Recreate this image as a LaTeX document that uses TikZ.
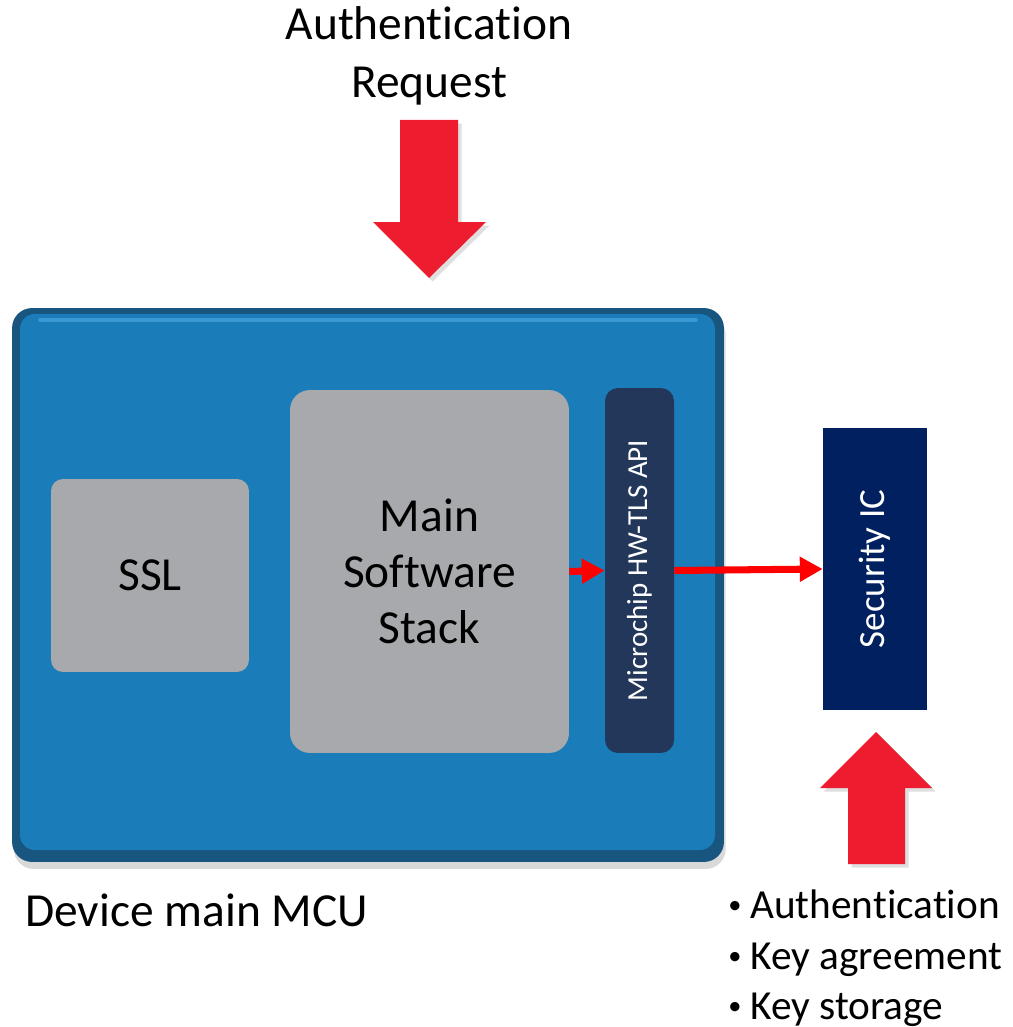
\documentclass[tikz,border=0pt]{standalone}
\usepackage{fontspec}
\setmainfont{Carlito}[Ligatures={NoCommon}]
\usetikzlibrary{arrows.meta,shadows}

\definecolor{mcublue}{HTML}{1A7DBA}
\definecolor{mcuedge}{HTML}{18557F}
\definecolor{mcuhigh}{HTML}{3A98D3}
\definecolor{boxgray}{HTML}{A7A9AC}
\definecolor{apiblue}{HTML}{22375A}
\definecolor{icblue}{HTML}{002060}
\definecolor{bigred}{HTML}{ED1C2E}

\newcommand{\featdot}{\raisebox{0.12em}{\fontsize{15}{15}\selectfont•}\hspace{5pt}}

\tikzset{
	txt/.style={inner sep=0pt, font=\fontsize{27}{32}\selectfont},
	feat/.style={inner sep=0pt, anchor=base west, font=\fontsize{23.5}{28}\selectfont},
	grayblock/.style={fill=boxgray, draw=none, align=center, inner sep=0pt},
	link/.style={red, line width=4pt, -{Triangle[length=13pt, width=13.5pt]}},
	bigarrow/.style={fill=bigred, draw=none, drop shadow={shadow xshift=2pt, shadow yshift=-2pt, opacity=0.25}},
}

\begin{document}
\begin{tikzpicture}[x=0.02cm, y=-0.02cm]
	\useasboundingbox (0,0) rectangle (1012,1027);
	% mcu body
	\node [fill=mcuedge, rounded corners=0.4cm, minimum width=14.24cm, minimum height=11.08cm,
		drop shadow={shadow xshift=1pt, shadow yshift=-4pt, opacity=0.3}] (mcu) at (368,585) {};
	\fill [mcublue, rounded corners=0.3cm] (20,314) rectangle (715,850);
	\draw [mcuhigh, line width=2pt, line cap=round] (40,320) -- (696,320);
	% inner blocks
	\node [grayblock, rounded corners=0.24cm, minimum width=3.96cm, minimum height=3.86cm,
		font=\fontsize{27}{32}\selectfont] (ssl) at (150,575.5) {SSL};
	\node [grayblock, rounded corners=0.4cm, minimum width=5.58cm, minimum height=7.26cm,
		font=\fontsize{27}{32}\selectfont] (stack) at (429.5,571.5) {Main\\Software\\Stack};
	\node [fill=apiblue, rounded corners=0.26cm, minimum width=1.38cm, minimum height=7.3cm] (api) at (639.5,570.5) {};
	\node [txt, white, rotate=90, font=\fontsize{16.5}{20}\selectfont] (apitxt) at (api.center) {Microchip HW-TLS API};
	\node [fill=icblue, minimum width=2.08cm, minimum height=5.64cm] (ic) at (875,569) {};
	\node [txt, white, rotate=90, font=\fontsize{21}{25}\selectfont] (ictxt) at (ic.center) {Security IC};
	% links
	\draw [link] (stack.east) -- (api.west);
	\draw [link] (api.east) -- (ic.west);
	% block arrows
	\path [bigarrow] (400,120) -- (458,120) -- (458,222) -- (486,222) -- (429,278) -- (373,222) -- (400,222) -- cycle;
	\path [bigarrow] (848,864) -- (905,864) -- (905,788) -- (932,788) -- (876,732) -- (820,788) -- (848,788) -- cycle;
	% labels
	\node [txt, anchor=base] (req1) at (429,40) {Authentication};
	\node [txt, anchor=base] (req2) at (429,98) {Request};
	\node [txt, anchor=base west] (mculbl) at (25,926) {Device main MCU};
	\node [feat] (feat1) at (728,918) {\featdot Authentication};
	\node [feat] (feat2) at (728,969) {\featdot Key agreement};
	\node [feat] (feat3) at (728,1019) {\featdot Key storage};
\end{tikzpicture}
\end{document}
